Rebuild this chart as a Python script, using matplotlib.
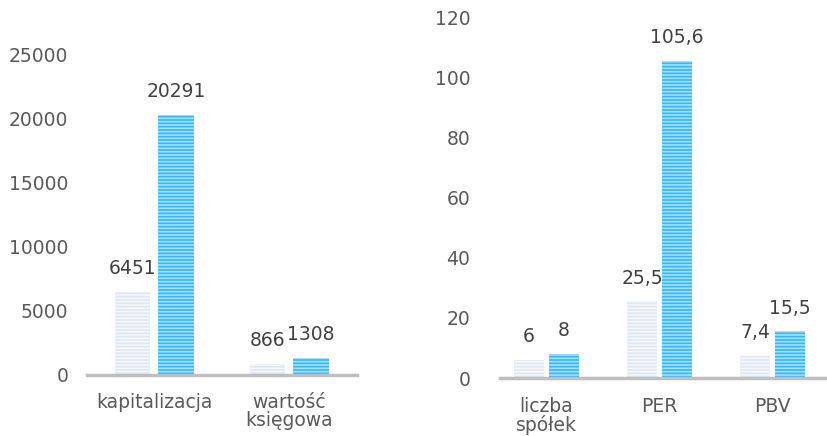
import matplotlib.pyplot as plt
import numpy as np

plt.rcParams['font.family'] = ['DejaVu Sans']
plt.rcParams['hatch.linewidth'] = 1.2

# dane
left_cats = ["kapitalizacja", "wartość\nksięgowa"]
left_a = [6451, 866]
left_b = [20291, 1308]

right_cats = ["liczba\nspółek", "PER", "PBV"]
right_a = [6, 25.5, 7.4]
right_b = [8, 105.6, 15.5]

txt = "#404040"
tick_txt = "#595959"
fs = 13.5


def fmt(v):
    s = f"{v:g}"
    return s.replace(".", ",")


def draw(ax, cats, a, b, width, off, ylim, ticks, xlim, ypad, xpad):
    x = np.arange(len(cats))
    ba = ax.bar(x - off, a, width, color="#dfe8f2", edgecolor="#f4f7fb",
                hatch="-----", linewidth=0)
    bb = ax.bar(x + off, b, width, color="#35b8f5", edgecolor="#a6e0fc",
                hatch="-----", linewidth=0)
    for bars, vals in ((ba, a), (bb, b)):
        for r, v in zip(bars, vals):
            ax.annotate(fmt(v), (r.get_x() + r.get_width() / 2, r.get_height()),
                        xytext=(0, 10), textcoords="offset points",
                        ha="center", va="bottom", fontsize=fs, color=txt)
    ax.set_xlim(*xlim)
    ax.set_ylim(*ylim)
    ax.set_yticks(ticks)
    ax.set_xticks(x)
    ax.set_xticklabels(cats, fontsize=fs, color=tick_txt, linespacing=0.95)
    ax.tick_params(axis="y", length=0, labelsize=fs, labelcolor=tick_txt, pad=ypad)
    ax.tick_params(axis="x", length=0, pad=xpad)
    for s in ("top", "right", "left"):
        ax.spines[s].set_visible(False)
    ax.spines["bottom"].set_color("#bfbfbf")
    ax.spines["bottom"].set_linewidth(2.5)
    ax.spines["bottom"].set_zorder(5)


fig = plt.figure(figsize=(8.28, 4.36), dpi=100)
ax1 = fig.add_axes([0.105, 0.140, 0.326, 0.736])
ax2 = fig.add_axes([0.604, 0.133, 0.396, 0.826])

draw(ax1, left_cats, left_a, left_b, 0.26, 0.16, (0, 25000),
     range(0, 25001, 5000), (-0.5, 1.5), 13.5, 13)
draw(ax2, right_cats, right_a, right_b, 0.265, 0.155, (0, 120),
     range(0, 121, 20), (-0.41, 2.49), 21.5, 13.5)

fig.savefig("out.png", dpi=100)
